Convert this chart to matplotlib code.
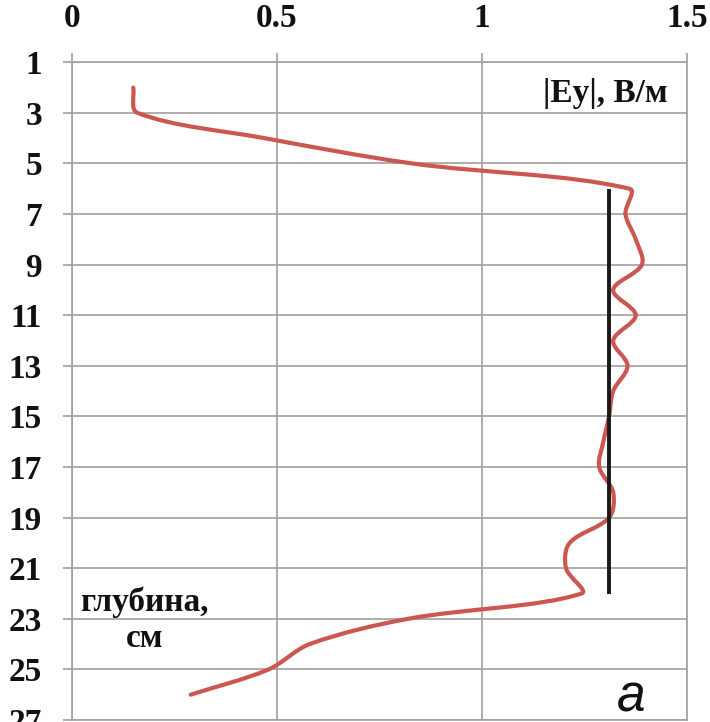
import numpy as np
import matplotlib
matplotlib.use("Agg")
import matplotlib.pyplot as plt
from matplotlib.path import Path
from matplotlib.patches import PathPatch

# |Ey| profile versus depth
depth = [2, 3, 4, 5, 6, 7, 8, 9, 10, 11, 12, 13, 14, 15, 16, 17, 18, 19, 20, 21, 22, 23, 24, 25, 26]
e_abs = [0.15, 0.16, 0.47, 0.83, 1.36, 1.35, 1.375, 1.39, 1.32, 1.375, 1.32, 1.355, 1.32,
         1.31, 1.296, 1.286, 1.32, 1.31, 1.214, 1.205, 1.243, 0.82, 0.58, 0.48, 0.29]

# mean level over the uniform layer
mean_value = 1.31
mean_depth = [6, 22]

x_ticks = [0, 0.5, 1, 1.5]
x_tick_labels = ["0", "0.5", "1", "1.5"]
y_ticks = list(range(1, 28, 2))

GRID = "#a0a0a0"
RED = "#cc5650"
SERIF = "Liberation Serif"

fig = plt.figure(figsize=(7.1, 7.22), dpi=100)
ax = fig.add_axes([0.101, 0.00277, 0.8666, 0.911])
ax.set_xlim(0, 1.5)
ax.set_ylim(27, 1)

ax.xaxis.set_ticks_position("top")
ax.set_xticks(x_ticks)
ax.set_xticklabels(x_tick_labels)
ax.set_yticks(y_ticks)
ax.tick_params(axis="x", direction="out", length=6.5, width=1.2, color=GRID, pad=14,
               labelsize=24, labelcolor="#111111")
ax.tick_params(axis="y", direction="out", length=6.5, width=1.2, color=GRID, pad=15,
               labelsize=24, labelcolor="#111111")
for lab in ax.get_xticklabels() + ax.get_yticklabels():
    lab.set_fontfamily(SERIF)
    lab.set_fontweight("bold")

ax.grid(True, color=GRID, lw=1.2)
ax.set_axisbelow(True)
for sp in ax.spines.values():
    sp.set_color(GRID)
    sp.set_linewidth(1.2)


def smooth_curve(ax, xs, ys):
    """Smoothed line through the points (Bezier segments built in screen space)."""
    pts = ax.transData.transform(np.column_stack([xs, ys]))
    n = len(pts)

    def handles(i):
        prev = pts[max(i - 1, 0)]
        nxt = pts[min(i + 1, n - 1)]
        d_in = np.hypot(*(pts[i] - prev))
        d_out = np.hypot(*(nxt - pts[i]))
        tang = nxt - prev
        s = d_in + d_out
        return pts[i] - tang * d_in / s / 3.0, pts[i] + tang * d_out / s / 3.0

    verts = [pts[0]]
    codes = [Path.MOVETO]
    for i in range(n - 1):
        _, c1 = handles(i)
        c2, _ = handles(i + 1)
        verts += [c1, c2, pts[i + 1]]
        codes += [Path.CURVE4] * 3
    data_verts = ax.transData.inverted().transform(np.array(verts))
    return Path(data_verts, codes)


curve = smooth_curve(ax, e_abs, depth)
ax.add_patch(PathPatch(curve, fill=False, edgecolor=RED, lw=3.0,
                       capstyle="round", joinstyle="round", zorder=3))

ax.plot([mean_value, mean_value], mean_depth, color="#1a1a1a", lw=2.8, zorder=4,
        solid_capstyle="butt")

ax.text(1.452, 2.57, "|Ey|, В/м", fontsize=24, fontfamily=SERIF, fontweight="bold",
        ha="right", va="baseline", color="#111111")
ax.text(0.178, 22.68, "глубина,", fontsize=24, fontfamily=SERIF, fontweight="bold",
        ha="center", va="baseline", color="#111111")
ax.text(0.178, 24.11, "см", fontsize=24, fontfamily=SERIF, fontweight="bold",
        ha="center", va="baseline", color="#111111")
ax.text(1.364, 26.68, "a", fontsize=37, fontfamily="Liberation Sans", fontstyle="italic",
        ha="center", va="baseline", color="#111111")

fig.savefig("out.png", dpi=100)
